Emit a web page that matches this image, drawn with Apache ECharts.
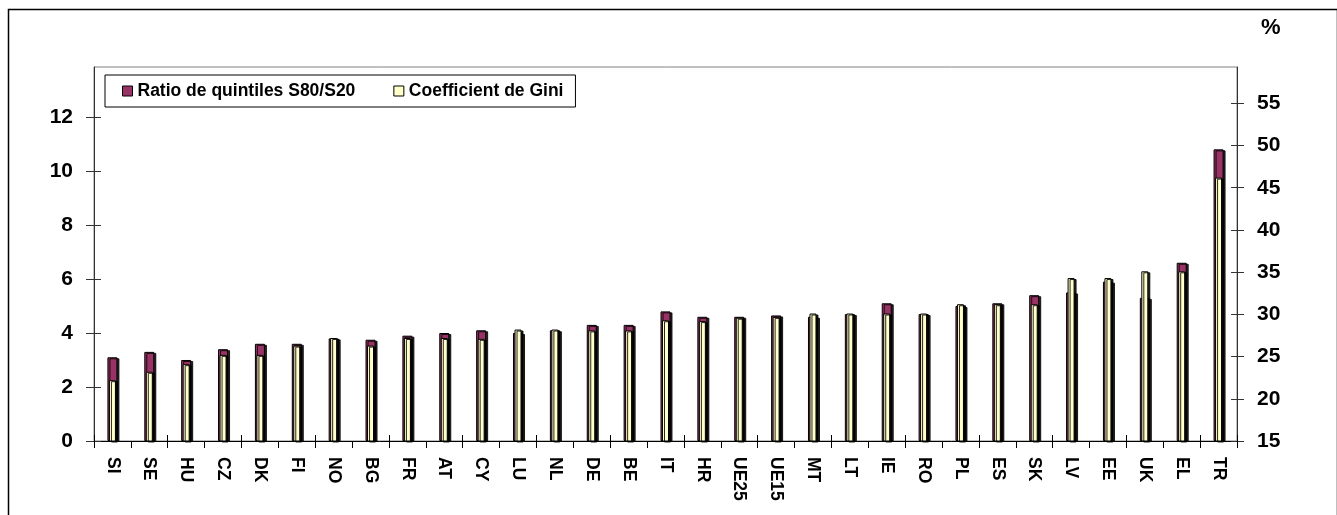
<!DOCTYPE html>
<html>
<head>
<meta charset="utf-8">
<script src="https://cdn.jsdelivr.net/npm/echarts@6/dist/echarts.min.js"></script>
<style>
html,body{margin:0;padding:0;background:#fff;}
#main{width:1337px;height:515px;}
</style>
</head>
<body>
<div id="main"></div>
<script>
// pays / agrégats
var categories = ['SI','SE','HU','CZ','DK','FI','NO','BG','FR','AT','CY','LU','NL','DE','BE','IT','HR','UE25','UE15','MT','LT','IE','RO','PL','ES','SK','LV','EE','UK','EL','TR'];
// ratio S80/S20 (axe gauche)
var ratioS80S20 = [3.1,3.3,3.0,3.4,3.6,3.6,3.8,3.75,3.9,4.0,4.1,4.0,4.1,4.3,4.3,4.8,4.6,4.6,4.65,4.6,4.7,5.1,4.7,5.0,5.1,5.4,5.5,5.9,5.3,6.6,10.8];
// coefficient de Gini en % (axe droit)
var giniCoef = [22.2,23.2,24.1,25.2,25.2,26.3,27.2,26.3,27.2,27.2,27.1,28.2,28.2,28.1,28.1,29.3,29.2,29.6,29.7,30.1,30.1,30.1,30.1,31.2,31.2,31.2,34.3,34.3,35.1,35.1,46.2];
var leftTicks = [0,2,4,6,8,10,12];
var rightTicks = [15,20,25,30,35,40,45,50,55];

var FONT = '"Liberation Sans", Arial, sans-serif';
var myChart = echarts.init(document.getElementById('main'));

var barShadow = {shadowColor:'rgba(0,0,0,0.85)', shadowBlur:0, shadowOffsetX:2, shadowOffsetY:1};

option = {
	animation: false,
	backgroundColor: '#fff',
	textStyle: {fontFamily: FONT},
	graphic: [
		{type:'rect', left:6, top:7, shape:{width:1329, height:520}, style:{fill:'none', stroke:'#000', lineWidth:1.5}, silent:true},
		{type:'text', left:1261, top:17, style:{text:'%', font:'bold 22px ' + FONT, fill:'#000'}}
	],
	grid: {left:94, right:100, top:67, bottom:74, show:true, borderColor:'#808080', borderWidth:1},
	legend: {
		left:105, top:75,
		padding:[7,12,7,17],
		itemGap:38,
		itemWidth:10, itemHeight:10,
		borderColor:'#000', borderWidth:1,
		backgroundColor:'#fff',
		icon:'rect',
		textStyle:{fontSize:17.5, fontWeight:'bold', color:'#000', fontFamily:FONT},
		itemStyle:{borderColor:'#000', borderWidth:1, shadowColor:'transparent', shadowOffsetX:0, shadowOffsetY:0},
		data:['Ratio de quintiles S80/S20','Coefficient de Gini']
	},
	xAxis: [
		{
			type:'category', data:categories, position:'bottom',
			axisLine:{lineStyle:{color:'#000', width:1}},
			axisTick:{show:true, length:7, lineStyle:{color:'#000'}},
			axisLabel:{rotate:-90, margin:16, fontSize:17.5, fontWeight:'bold', color:'#000', fontFamily:FONT}
		},
		{
			// même axe, sert aux barres jaunes + petits traits vers l'intérieur
			type:'category', data:categories, position:'bottom',
			axisLine:{show:false},
			axisTick:{show:true, inside:true, length:6, lineStyle:{color:'#000'}},
			axisLabel:{show:false}
		}
	],
	yAxis: [
		{
			type:'value', position:'left', min:0, max:13.85,
			splitLine:{show:false},
			axisLine:{show:true, lineStyle:{color:'#333'}},
			axisTick:{show:true, length:8, customValues:leftTicks, lineStyle:{color:'#333'}},
			axisLabel:{margin:21, fontSize:21, fontWeight:'bold', color:'#000', fontFamily:FONT, customValues:leftTicks}
		},
		{
			type:'value', position:'right', min:15, max:59.3,
			splitLine:{show:false},
			axisLine:{show:true, lineStyle:{color:'#333'}},
			axisTick:{show:true, length:7, customValues:rightTicks, lineStyle:{color:'#333'}},
			axisLabel:{margin:20, fontSize:21, fontWeight:'bold', color:'#000', fontFamily:FONT, customValues:rightTicks}
		},
		{
			type:'value', position:'left', min:0, max:13.85,
			splitLine:{show:false}, axisLine:{show:false}, axisLabel:{show:false},
			axisTick:{show:true, inside:true, length:7, customValues:leftTicks, lineStyle:{color:'#333'}}
		},
		{
			type:'value', position:'right', min:15, max:59.3,
			splitLine:{show:false}, axisLine:{show:false}, axisLabel:{show:false},
			axisTick:{show:true, inside:true, length:6, customValues:rightTicks, lineStyle:{color:'#333'}}
		}
	],
	series: [
		{
			name:'Ratio de quintiles S80/S20',
			type:'bar', xAxisIndex:0, yAxisIndex:0,
			barWidth:10,
			data:ratioS80S20,
			itemStyle:Object.assign({color:'#993366', borderColor:'#000', borderWidth:1}, barShadow)
		},
		{
			name:'Coefficient de Gini',
			type:'bar', xAxisIndex:1, yAxisIndex:1,
			barWidth:7,
			data:giniCoef,
			itemStyle:Object.assign({color:'#FFFFCC', borderColor:'#000', borderWidth:1}, barShadow)
		}
	]
};

myChart.setOption(option);
</script>
</body>
</html>
